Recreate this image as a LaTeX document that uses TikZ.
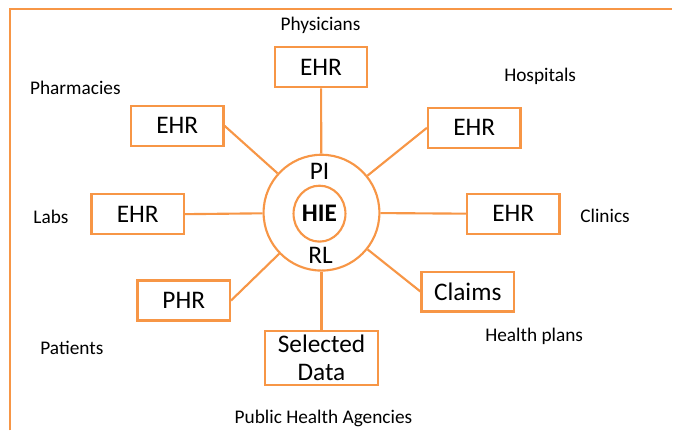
\documentclass[tikz,border=0pt]{standalone}
\usepackage{fontspec}
\setmainfont{Carlito}
\usepackage{tikz}
\usepackage{xcolor}
\usetikzlibrary{shapes.geometric}

\definecolor{hieorange}{RGB}{247,150,70}

\begin{document}
\begin{tikzpicture}[x=0.75pt,y=0.75pt,yscale=-1,xscale=1,
  sysbox/.style={draw=hieorange, line width=1.6pt, fill=white, inner sep=0pt,
    minimum width=69.5pt, minimum height=30pt, align=center,
    font=\fontsize{19}{21.5}\selectfont},
  lbl/.style={font=\fontsize{14.5}{17}\selectfont},
  link/.style={draw=hieorange, line width=1.6pt}]
\path (0,0) rectangle (673,431); %set diagram size

%Frame
\draw [color=hieorange, line width=1.6pt] (10,431) -- (10,9) -- (673,9) ;

%Shape: Circle [hub]
\node [draw=hieorange, line width=1.6pt, circle, inner sep=0pt, minimum size=87pt] (hub) at (322,213) {};
%Shape: Ellipse [core]
\node [draw=hieorange, line width=1.6pt, ellipse, inner sep=0pt, minimum width=39pt, minimum height=42pt,
  font=\fontsize{19}{21.5}\selectfont\bfseries] (core) at (320,214) {HIE};

% Text Node
\node [font=\fontsize{19}{21.5}\selectfont] (pi) at (320,172) {PI};
% Text Node
\node [font=\fontsize{19}{21.5}\selectfont] (rl) at (321,256) {RL};

%Shapes: Rectangles
\node [sysbox] (phys) at (321.5,67.5) {EHR};
\node [sysbox] (pharm) at (177.5,126) {EHR};
\node [sysbox] (hosp) at (475,128) {EHR};
\node [sysbox] (labs) at (138,214.5) {EHR};
\node [sysbox] (clin) at (514,214) {EHR};
\node [sysbox] (phr) at (184,301) {PHR};
\node [sysbox] (claims) at (468.5,292) {Claims};
\node [sysbox, minimum width=85.5pt, minimum height=41pt] (sel) at (322,358.5) {Selected\\Data};

%Straight Lines
\draw [link] (phys) -- (hub) ;
\draw [link] (pharm.east) -- (hub) ;
\draw [link] (hosp.west) -- (hub) ;
\draw [link] (labs.east) -- (hub) ;
\draw [link] (clin.west) -- (hub) ;
\draw [link] (phr.east) -- (hub) ;
\draw [link] (claims.west) -- (hub) ;
\draw [link] (sel) -- (hub) ;

% Text Node
\node [lbl] (physlbl) at (321,25) {Physicians};
% Text Node
\node [lbl] (pharmlbl) at (75.5,88) {Pharmacies};
% Text Node
\node [lbl] (hosplbl) at (541,76) {Hospitals};
% Text Node
\node [lbl] (labslbl) at (51,217) {Labs};
% Text Node
\node [lbl] (clinlbl) at (606,216) {Clinics};
% Text Node
\node [lbl] (patlbl) at (72,348) {Patients};
% Text Node
\node [lbl] (planlbl) at (535,337) {Health plans};
% Text Node
\node [lbl] (publbl) at (324,419) {Public Health Agencies};

\end{tikzpicture}
\end{document}
